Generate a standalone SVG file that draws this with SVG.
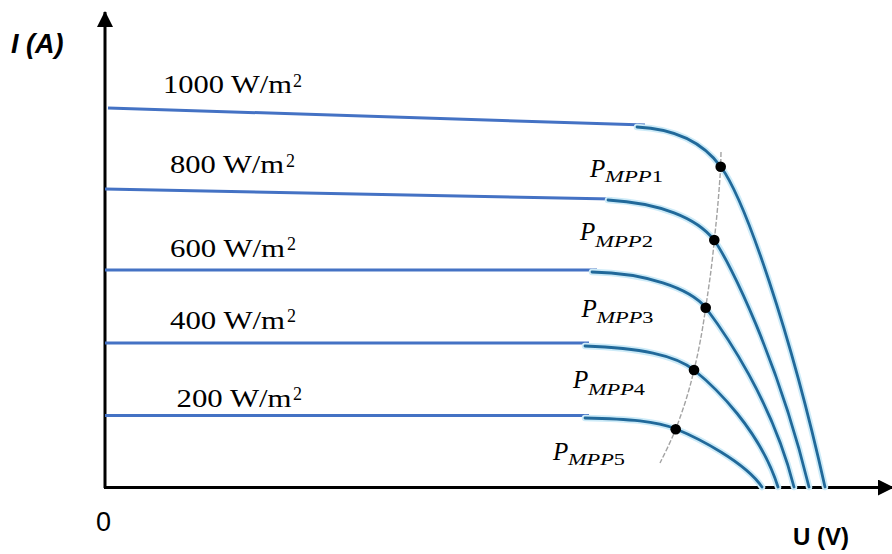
<svg xmlns="http://www.w3.org/2000/svg" width="892" height="554" viewBox="0 0 892 554">
<style>
.axis{stroke:#000;stroke-width:3;fill:none}
.flat{stroke:#4472C4;stroke-width:3;fill:none}
.halo{stroke:#CDEBF8;stroke-width:6.5;fill:none;stroke-linecap:round}
.curve{stroke:#21699A;stroke-width:2.8;fill:none;stroke-linecap:round}
.mppline{stroke:#A3A3A3;stroke-width:1.4;fill:none;stroke-dasharray:5 2}
.dot{fill:#000}
.irr{font-family:"Liberation Serif",serif;font-size:24.5px;fill:#000}
.sup{font-family:"Liberation Serif",serif;font-size:18px;fill:#000}
.p{font-family:"Liberation Serif",serif;font-style:italic;font-size:25px;fill:#000}
.sub{font-family:"Liberation Serif",serif;font-style:italic;font-size:17.5px;fill:#000}
.ax{font-family:"Liberation Sans",Arial,sans-serif;font-weight:bold;fill:#000}
</style>
<defs>
<marker id="arrow" viewBox="0 0 16 16" refX="15" refY="8" markerWidth="16" markerHeight="16" markerUnits="userSpaceOnUse" orient="auto">
<path d="M0,0 L16,8 L0,16 Z" fill="#000"/>
</marker>
</defs>

<g id="axes">
<path class="axis" d="M105,488 L105,12" marker-end="url(#arrow)"/>
<path class="axis" d="M104,487.5 L893,487.5" marker-end="url(#arrow)"/>
<text class="ax" x="11" y="53" font-size="27" font-style="italic">I (A)</text>
<text class="ax" x="793" y="545" font-size="24">U (V)</text>
<text x="96" y="531" font-family="Liberation Sans,Arial,sans-serif" font-size="27" fill="#000">0</text>
</g>

<g id="connectors">
<path class="flat" d="M108,108 L645,125"/>
<path class="flat" d="M105,189 L612,199"/>
<path class="flat" d="M105,270 L597,270"/>
<path class="flat" d="M105,343 L589,343"/>
<path class="flat" d="M105,415.5 L589,415.5"/>
<g id="halos">
<path class="halo" d="M637,127 C680,129 705,145 721,167 C745,200 790,330 825,487"/>
<path class="halo" d="M608,200 C660,203 697,218 714,240 C730,262 778,360 809,487"/>
<path class="halo" d="M592,272 C645,273 690,288 706,308 C724,332 772,400 794,487"/>
<path class="halo" d="M585,346 C640,348 675,355 694,370 C715,387 760,430 778,487"/>
<path class="halo" d="M585,418 C630,419 656,421 676,429 C698,438 745,462 762,487"/>
</g>
<path class="curve" d="M637,127 C680,129 705,145 721,167 C745,200 790,330 825,487"/>
<path class="curve" d="M608,200 C660,203 697,218 714,240 C730,262 778,360 809,487"/>
<path class="curve" d="M592,272 C645,273 690,288 706,308 C724,332 772,400 794,487"/>
<path class="curve" d="M585,346 C640,348 675,355 694,370 C715,387 760,430 778,487"/>
<path class="curve" d="M585,418 C630,419 656,421 676,429 C698,438 745,462 762,487"/>
<path class="mppline" d="M721,152 L720.7,166.7 C718.5,200 717,215 714.3,240 C711.5,270 709,285 705.7,307.7 C702.5,330 699,350 694,370 C689,392 683,410 675.7,429.3 C670,443 665,453 660,463"/>
</g>

<g id="label-1000">
<text class="irr" x="163" y="93" textLength="129" lengthAdjust="spacingAndGlyphs">1000 W/m</text>
<text class="sup" x="293" y="86.5">2</text>
</g>
<g id="label-800">
<text class="irr" x="170" y="173" textLength="114" lengthAdjust="spacingAndGlyphs">800 W/m</text>
<text class="sup" x="286" y="166.5">2</text>
</g>
<g id="label-600">
<text class="irr" x="170" y="256.5" textLength="115" lengthAdjust="spacingAndGlyphs">600 W/m</text>
<text class="sup" x="287" y="250">2</text>
</g>
<g id="label-400">
<text class="irr" x="170" y="328.5" textLength="115" lengthAdjust="spacingAndGlyphs">400 W/m</text>
<text class="sup" x="287" y="321.5">2</text>
</g>
<g id="label-200">
<text class="irr" x="176.5" y="406.5" textLength="115" lengthAdjust="spacingAndGlyphs">200 W/m</text>
<text class="sup" x="293" y="399.5">2</text>
</g>

<g id="mpp1">
<circle class="dot" cx="720.7" cy="166.7" r="5.3"/>
<text class="p" x="590" y="176.7">P</text>
<text class="sub" x="605" y="182" textLength="58" lengthAdjust="spacingAndGlyphs">MPP<tspan font-style="normal">1</tspan></text>
</g>
<g id="mpp2">
<circle class="dot" cx="714.3" cy="240" r="5.3"/>
<text class="p" x="580" y="240">P</text>
<text class="sub" x="595" y="246.5" textLength="58" lengthAdjust="spacingAndGlyphs">MPP<tspan font-style="normal">2</tspan></text>
</g>
<g id="mpp3">
<circle class="dot" cx="705.7" cy="307.7" r="5.3"/>
<text class="p" x="581.5" y="316.7">P</text>
<text class="sub" x="596.5" y="323" textLength="57" lengthAdjust="spacingAndGlyphs">MPP<tspan font-style="normal">3</tspan></text>
</g>
<g id="mpp4">
<circle class="dot" cx="694" cy="370" r="5.3"/>
<text class="p" x="573" y="388.3">P</text>
<text class="sub" x="588" y="395" textLength="57" lengthAdjust="spacingAndGlyphs">MPP<tspan font-style="normal">4</tspan></text>
</g>
<g id="mpp5">
<circle class="dot" cx="675.7" cy="429.3" r="5.3"/>
<text class="p" x="553" y="460">P</text>
<text class="sub" x="568" y="465" textLength="57" lengthAdjust="spacingAndGlyphs">MPP<tspan font-style="normal">5</tspan></text>
</g>
</svg>
